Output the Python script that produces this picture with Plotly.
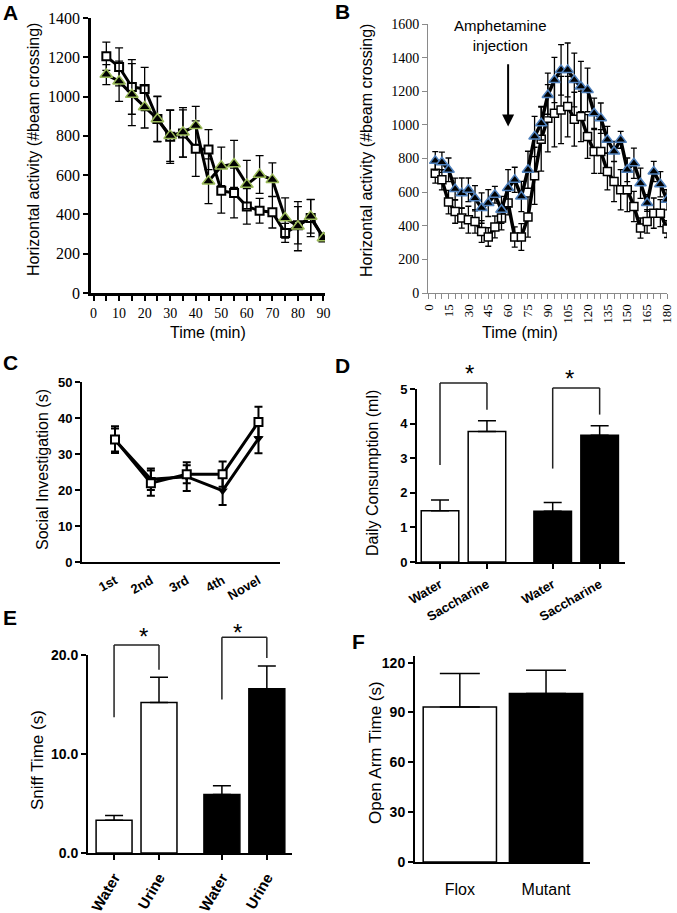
import plotly.graph_objects as go
import plotly.io as pio

pio.templates.default = 'simple_white'

W, H = 677, 913

# ---------------- data ----------------
# A: open field, 90 min
a_time = list(range(5, 95, 5))
a_flox = [1205, 1151, 1049, 1039, 886, 795, 812, 735, 730, 521, 509, 441, 419, 411, 306, 345, 382, 282]
a_flox_err = [72, 97, 139, 110, 116, 135, 120, 141, 102, 114, 127, 90, 63, 80, 48, 95, 95, 0]
a_mut = [1112, 1078, 1010, 947, 886, 801, 818, 852, 569, 645, 657, 552, 603, 577, 382, 340, 390, 280]
a_mut_err = [51, 102, 158, 107, 114, 131, 126, 98, 114, 98, 120, 123, 96, 85, 102, 125, 85, 0]

# B: amphetamine, 180 min
b_time = list(range(5, 185, 5))
b_mut = [786, 778, 733, 618, 594, 614, 564, 505, 535, 584, 495, 624, 673, 574, 733, 931, 1010, 1178,
         1267, 1327, 1327, 1267, 1228, 1208, 1069, 1040, 911, 842, 911, 733, 772, 653, 535, 723, 647, 554]
b_mut_err = [55, 60, 70, 65, 90, 70, 75, 90, 80, 50, 80, 110, 75, 90, 110, 120, 100, 130,
             135, 150, 160, 160, 150, 130, 90, 90, 80, 60, 50, 70, 90, 90, 50, 60, 75, 60]
b_flox = [713, 673, 541, 485, 446, 436, 426, 366, 333, 393, 446, 535, 333, 333, 452, 697, 915, 1040,
          1069, 1089, 1109, 1034, 1050, 931, 842, 842, 723, 663, 614, 614, 515, 386, 426, 475, 475, 380]
b_flox_err = [60, 60, 70, 70, 60, 80, 70, 65, 55, 65, 70, 70, 60, 80, 120, 170, 190, 200,
              200, 200, 180, 160, 150, 130, 130, 130, 110, 120, 120, 130, 90, 60, 70, 90, 80, 50]

# C: social investigation
c_cats = ['1st', '2nd', '3rd', '4th', 'Novel']
c_flox = [34.0, 21.9, 24.4, 24.4, 38.9]
c_flox_err = [3.7, 3.5, 2.5, 3.5, 4.2]
c_mut = [33.9, 23.0, 23.7, 19.8, 34.3]
c_mut_err = [3.2, 3.0, 4.0, 4.0, 4.1]

# D: saccharin preference
d_labels = ['Water', 'Saccharine', 'Water', 'Saccharine']
d_flox = [1.48, 3.77]
d_flox_err = [0.31, 0.31]
d_mut = [1.47, 3.66]
d_mut_err = [0.25, 0.28]

# E: urine sniffing
e_labels = ['Water', 'Urine', 'Water', 'Urine']
e_flox = [3.3, 15.2]
e_flox_err = [0.5, 2.55]
e_mut = [5.9, 16.6]
e_mut_err = [0.9, 2.3]

# F: elevated plus maze
f_labels = ['Flox', 'Mutant']
f_vals = [93.3, 101.5]
f_err = [20.1, 13.9]

# ---------------- layout helpers ----------------
GROUP_X = [0, 1, 2.4, 3.4]   # bar slots for two-group bar panels


def dom_x(left, right):
    return [left / W, right / W]


def dom_y(top, bottom):
    return [1 - bottom / H, 1 - top / H]


def ax(**kw):
    base = dict(showgrid=False, zeroline=False, showline=True, linecolor='black', linewidth=2,
                ticks='outside', tickcolor='black', tickwidth=2, ticklen=5, mirror=False,
                automargin=False)
    base.update(kw)
    return base


SERIF = dict(family='Liberation Serif', size=15, color='black')
BOLD = dict(family='Liberation Sans', size=13, color='black', weight='bold')

fig = go.Figure()

# ---- A ----
fig.add_trace(go.Scatter(
    x=a_time, y=a_flox, xaxis='x', yaxis='y', mode='lines+markers',
    error_y=dict(array=a_flox_err, color='black', thickness=1.3, width=4),
    line=dict(color='black', width=3),
    marker=dict(symbol='square', size=8, color='white', line=dict(color='black', width=2))))
fig.add_trace(go.Scatter(
    x=a_time, y=a_mut, xaxis='x', yaxis='y', mode='lines+markers',
    error_y=dict(array=a_mut_err, color='black', thickness=1.3, width=4),
    line=dict(color='black', width=3),
    marker=dict(symbol='triangle-up', size=11, color='black', line=dict(color='#9bbb59', width=1.5))))

# ---- B ----
fig.add_trace(go.Scatter(
    x=b_time, y=b_flox, xaxis='x2', yaxis='y2', mode='lines+markers',
    error_y=dict(array=b_flox_err, color='black', thickness=1.3, width=3),
    line=dict(color='black', width=3.5),
    marker=dict(symbol='square', size=8, color='white', line=dict(color='black', width=1.5))))
fig.add_trace(go.Scatter(
    x=b_time, y=b_mut, xaxis='x2', yaxis='y2', mode='lines+markers',
    error_y=dict(array=b_mut_err, color='black', thickness=1.3, width=3),
    line=dict(color='black', width=3.5),
    marker=dict(symbol='triangle-up', size=10, color='black', line=dict(color='#4f81bd', width=1.5))))

# ---- C ----
fig.add_trace(go.Scatter(
    x=c_cats, y=c_mut, xaxis='x3', yaxis='y3', mode='lines+markers',
    error_y=dict(array=c_mut_err, color='black', thickness=2, width=4),
    line=dict(color='black', width=3),
    marker=dict(symbol='triangle-down', size=9, color='black')))
fig.add_trace(go.Scatter(
    x=c_cats, y=c_flox, xaxis='x3', yaxis='y3', mode='lines+markers',
    error_y=dict(array=c_flox_err, color='black', thickness=2, width=4),
    line=dict(color='black', width=3),
    marker=dict(symbol='square', size=8, color='white', line=dict(color='black', width=2))))


# ---- bar panels ----
def bars(x, y, err, fill, xa, ya, width, cap):
    fig.add_trace(go.Bar(
        x=x, y=y, xaxis=xa, yaxis=ya, width=width,
        marker=dict(color=fill, line=dict(color='black', width=1.5)),
        error_y=dict(type='data', symmetric=False, array=err, arrayminus=[0] * len(err),
                     color='black', thickness=1.5, width=cap)))


bars(GROUP_X[:2], d_flox, d_flox_err, 'white', 'x4', 'y4', 0.8, 9)
bars(GROUP_X[2:], d_mut, d_mut_err, 'black', 'x4', 'y4', 0.8, 9)
bars(GROUP_X[:2], e_flox, e_flox_err, 'white', 'x5', 'y5', 0.8, 9)
bars(GROUP_X[2:], e_mut, e_mut_err, 'black', 'x5', 'y5', 0.8, 9)
bars([0], f_vals[:1], f_err[:1], 'white', 'x6', 'y6', 0.85, 20)
bars([1], f_vals[1:], f_err[1:], 'black', 'x6', 'y6', 0.85, 20)

# ranges
A_X, A_Y = [-1, 90.6], [0, 1400]
B_X, B_Y = [-0.5, 180], [0, 1600]
C_X, C_Y = [-0.92, 4.6], [0, 50]
D_X, D_Y = [-0.49, 3.94], [0, 5]
E_X, E_Y = [-0.58, 3.96], [0, 20]
F_X, F_Y = [-0.52, 1.51], [0, 124]

GRAY = '#8a8a8a'

fig.update_layout(
    width=W, height=H, margin=dict(l=0, r=0, t=0, b=0, autoexpand=False),
    paper_bgcolor='white', plot_bgcolor='white', showlegend=False, barmode='overlay',
    font=dict(family='Liberation Sans', color='black'),
    xaxis=ax(domain=dom_x(91, 325), anchor='y', range=A_X, tickvals=list(range(0, 100, 10)),
             tickfont=dict(SERIF, size=14), linewidth=2.5,
             minor=dict(dtick=5, tick0=0, ticks='outside', ticklen=5, tickwidth=2, tickcolor='black')),
    yaxis=ax(domain=dom_y(18, 293), anchor='x', range=A_Y, dtick=200, tickfont=dict(SERIF, size=16),
             linewidth=2.5),
    xaxis2=ax(domain=dom_x(428, 667), anchor='y2', range=B_X, tickvals=list(range(0, 195, 15)),
              tickangle=-90, tickfont=dict(SERIF, size=13), linecolor=GRAY, linewidth=1,
              tickcolor=GRAY, tickwidth=1,
              minor=dict(dtick=5, tick0=0, ticks='outside', ticklen=5, tickwidth=1, tickcolor=GRAY)),
    yaxis2=ax(domain=dom_y(24, 293), anchor='x2', range=B_Y, dtick=200, tickfont=dict(SERIF, size=14),
              linecolor=GRAY, linewidth=1, tickcolor=GRAY, tickwidth=1),
    xaxis3=ax(domain=dom_x(82, 280), anchor='y3', range=C_X, ticks='', tickangle=-30,
              tickfont=BOLD, ticklabelstandoff=4),
    yaxis3=ax(domain=dom_y(382, 562), anchor='x3', range=C_Y, dtick=10, tickfont=BOLD),
    xaxis4=ax(domain=dom_x(417, 625), anchor='y4', range=D_X, tickvals=GROUP_X, ticktext=d_labels,
              tickangle=-30, tickfont=BOLD, ticklabelstandoff=3),
    yaxis4=ax(domain=dom_y(389, 562), anchor='x4', range=D_Y, dtick=1, tickfont=BOLD),
    xaxis5=ax(domain=dom_x(88, 292), anchor='y5', range=E_X, tickvals=GROUP_X, ticktext=e_labels,
              tickangle=-60, tickfont=dict(BOLD, size=15), ticklabelstandoff=3),
    yaxis5=ax(domain=dom_y(655, 853), anchor='x5', range=E_Y, tickvals=[0, 10, 20],
              ticktext=['0.0', '10.0', '20.0'], tickfont=dict(BOLD, size=14)),
    xaxis6=ax(domain=dom_x(415, 590), anchor='y6', range=F_X, ticks='', tickvals=[0, 1],
              ticktext=f_labels, ticklabelstandoff=12,
              tickfont=dict(family='Liberation Sans', size=16, color='black')),
    yaxis6=ax(domain=dom_y(656, 862), anchor='x6', range=F_Y, tickvals=[0, 30, 60, 90, 120],
              tickfont=dict(BOLD, size=14)),
)


# ---------------- text ----------------
def label(text, x, y, size=16, angle=0, bold=False):
    fig.add_annotation(text=f'<b>{text}</b>' if bold else text, x=x / W, y=1 - y / H,
                       xref='paper', yref='paper', showarrow=False, textangle=angle,
                       xanchor='center', yanchor='middle',
                       font=dict(family='Liberation Sans', size=size, color='black'))


for letter, lx, ly in [('A', 10, 13), ('B', 342, 11), ('C', 10, 362), ('D', 342, 365),
                       ('E', 10, 617), ('F', 358, 641)]:
    label(letter, lx, ly, size=21, bold=True)

label('Horizontal activity (#beam crossing)', 34, 150, size=16, angle=-90)
label('Horizontal activity (#beam crossing)', 367, 150, size=16, angle=-90)
label('Time (min)', 208, 333, size=16)
label('Time (min)', 520, 333, size=16)
label('Social Investigation (s)', 42, 470, size=16, angle=-90)
label('Daily Consumption (ml)', 372, 473, size=16, angle=-90)
label('Sniff Time (s)', 37, 760, size=17, angle=-90)
label('Open Arm Time (s)', 375, 753, size=17, angle=-90)

# amphetamine injection marker
fig.add_annotation(text='Amphetamine<br>injection', x=54, y=1530, xref='x2', yref='y2',
                   showarrow=False, font=dict(family='Liberation Sans', size=15, color='black'))
fig.add_annotation(text='', x=60, y=990, ax=60, ay=1370, xref='x2', yref='y2', axref='x2', ayref='y2',
                   showarrow=True, arrowhead=2, arrowsize=1.2, arrowwidth=2, arrowcolor='black')


# significance brackets
def bracket(xa, ya, xr, yr, x0, x1, top, left_low, right_low, star_y):
    fx = lambda v: (v - xr[0]) / (xr[1] - xr[0])
    fy = lambda v: (v - yr[0]) / (yr[1] - yr[0])
    for p, q, r, s in [(x0, left_low, x0, top), (x0, top, x1, top), (x1, top, x1, right_low)]:
        fig.add_shape(type='line', xref=f'{xa} domain', yref=f'{ya} domain',
                      x0=fx(p), y0=fy(q), x1=fx(r), y1=fy(s), opacity=1, layer='above',
                      line=dict(color='#222222', width=1.5))
    fig.add_annotation(text='*', x=fx((x0 + x1) / 2), y=fy(star_y), xref=f'{xa} domain',
                       yref=f'{ya} domain', showarrow=False, yanchor='middle',
                       font=dict(family='Liberation Sans', size=24, color='black'))


bracket('x4', 'y4', D_X, D_Y, 0, 1, 5.17, 2.8, 4.4, 5.45)
bracket('x4', 'y4', D_X, D_Y, 2.4, 3.4, 5.03, 2.7, 4.26, 5.3)
bracket('x5', 'y5', E_X, E_Y, 0, 1, 21.0, 13.7, 18.5, 21.9)
bracket('x5', 'y5', E_X, E_Y, 2.4, 3.4, 21.8, 15.5, 19.7, 22.3)

# the page body has a default 8px margin; drop it so the figure fills the window
fig.write_html('out.html', config={'displayModeBar': False},
               post_script="document.body.style.margin = '0';")
